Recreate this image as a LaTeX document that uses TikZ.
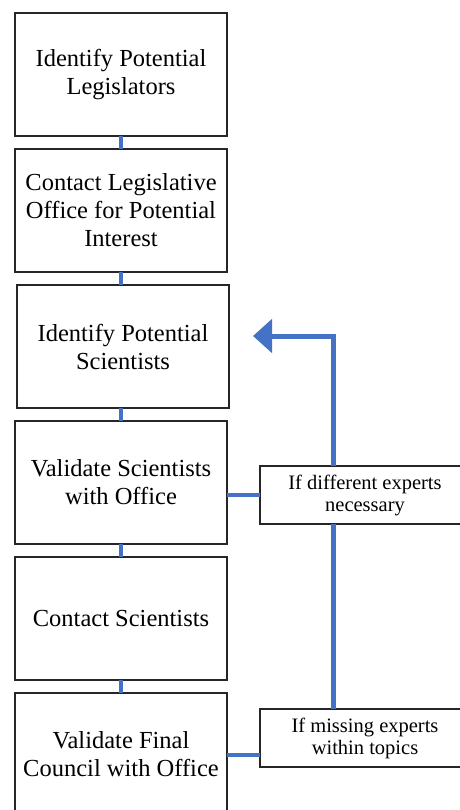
\documentclass[tikz,border=0pt]{standalone}
\usepackage{fontspec}
\setmainfont{Liberation Serif}
\usetikzlibrary{arrows.meta,calc}
\definecolor{flowblue}{HTML}{4472C4}
\tikzset{
  stepbox/.style={draw=black!85, line width=2pt, fill=white, outer sep=0pt, minimum width=212pt, minimum height=123pt, inner sep=0pt, align=center, font=\fontsize{24.5}{28}\selectfont, anchor=north west},
  notebox/.style={draw=black!85, line width=1.6pt, fill=white, outer sep=0pt, minimum width=210pt, minimum height=58.5pt, inner sep=0pt, align=center, font=\fontsize{20.5}{22}\selectfont, anchor=north west},
  thinlink/.style={flowblue, line width=3.5pt},
  thicklink/.style={flowblue, line width=5pt},
}
\begin{document}
\begin{tikzpicture}[x=1pt,y=-1pt]
\useasboundingbox (0,0) rectangle (459,810);
\coordinate (col) at (333.5,0);
\coordinate (tip) at (253,336);
\node[stepbox] (b1) at (15,13) {Identify Potential\\Legislators};
\node[stepbox] (b2) at (15,149) {Contact Legislative\\Office for Potential\\Interest};
\node[stepbox] (b3) at (17,285) {Identify Potential\\Scientists};
\node[stepbox] (b4) at (15,421) {Validate Scientists\\with Office};
\node[stepbox] (b5) at (15,557) {Contact Scientists};
\node[stepbox] (b6) at (15,693) {Validate Final\\Council with Office};
\node[notebox] (n1) at (260,465.75) {If different experts\\necessary};
\node[notebox] (n2) at (260,708.75) {If missing experts\\within topics};
\draw[thinlink] (b1.south) -- (b2.north);
\draw[thinlink] (b2.south) -- (b2.south |- b3.north);
\draw[thinlink] (b2.south |- b3.south) -- (b4.north);
\draw[thinlink] (b4.south) -- (b5.north);
\draw[thinlink] (b5.south) -- (b6.north);
\draw[thinlink] (b4.east |- 0,495) -- (n1.west |- 0,495);
\draw[thinlink] (b6.east |- 0,755) -- (n2.west |- 0,755);
\draw[thicklink] (col |- n2.north) -- (col |- n1.south);
\draw[thicklink, -{Triangle[length=19pt,width=33pt]}] (col |- n1.north) |- (tip);
\end{tikzpicture}
\end{document}
